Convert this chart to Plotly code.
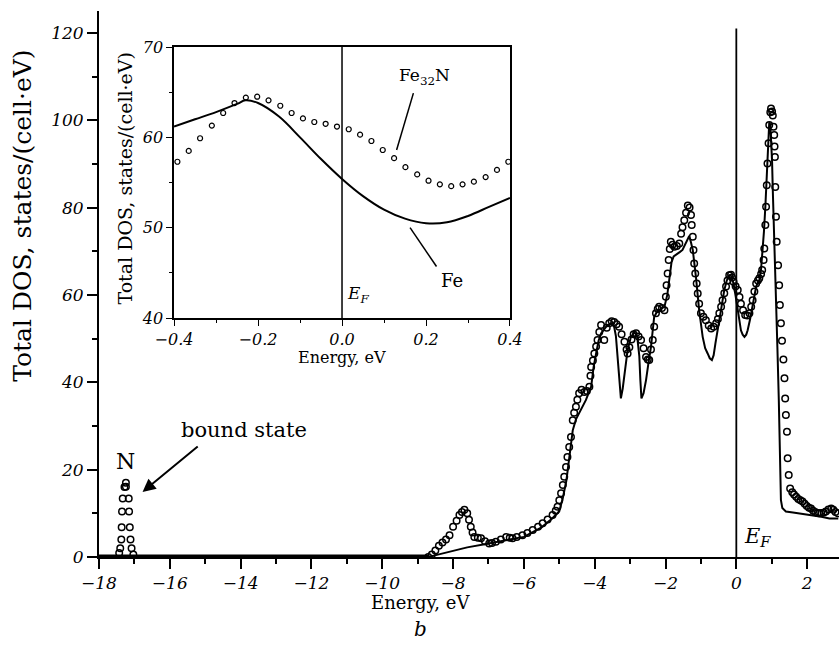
import plotly.graph_objects as go

# ---------------- data ----------------
# Main panel: Fe (solid line)
fe_E = [-18.0, -8.70, -8.40, -8.00, -7.60, -7.07, -6.50, -6.00, -5.50, -5.20, -5.00, -4.90, -4.80,
        -4.70, -4.62, -4.53, -4.44, -4.25, -4.10, -4.03, -3.96, -3.89, -3.82, -3.68, -3.54, -3.45,
        -3.40, -3.35, -3.30, -3.26, -3.21, -3.16, -3.07, -2.98, -2.88, -2.80, -2.74, -2.71, -2.68,
        -2.62, -2.55, -2.48, -2.41, -2.32, -2.25, -2.18, -2.03, -1.95, -1.89, -1.83, -1.77, -1.70,
        -1.60, -1.52, -1.45, -1.37, -1.33, -1.28, -1.23, -1.14, -1.05, -0.95, -0.88, -0.81, -0.75,
        -0.69, -0.64, -0.59, -0.53, -0.48, -0.41, -0.34, -0.27, -0.20, -0.14, -0.08, -0.02, 0.04,
        0.08, 0.13, 0.18, 0.23, 0.28, 0.32, 0.39, 0.46, 0.51, 0.56, 0.61, 0.65, 0.70, 0.74, 0.78,
        0.82, 0.86, 0.89, 0.93, 0.96, 0.98, 1.01, 1.03, 1.08, 1.12, 1.16, 1.20, 1.23, 1.26, 1.30,
        1.40, 1.60, 1.78, 2.16, 2.40, 2.63, 2.88]
fe_D = [0.0, 0.0, 0.6, 1.4, 2.2, 3.0, 3.8, 4.6, 6.8, 8.8, 10.5, 13.5, 17.5,
        23.5, 29.0, 31.5, 32.9, 35.9, 39.0, 43.5, 46.6, 49.5, 51.2, 52.7, 53.5, 52.7,
        50.5, 46.0, 40.0, 36.3, 38.5, 42.0, 47.4, 50.3, 51.5, 50.5, 46.0, 40.5, 36.3,
        37.5, 40.5, 44.5, 48.1, 55.0, 56.0, 56.5, 57.3, 60.0, 63.5, 67.5, 68.8, 69.3,
        69.8, 70.3, 71.5, 73.0, 73.5, 72.0, 70.3, 64.1, 56.5, 50.4, 47.8, 46.6, 45.5,
        45.1, 46.2, 48.9, 52.0, 55.0, 58.5, 61.1, 63.3, 64.5, 64.3, 62.6, 59.8, 56.5,
        54.0, 51.9, 50.9, 50.4, 50.9, 51.9, 54.5, 57.3, 59.8, 61.9, 62.8, 63.4, 66.0, 69.5, 74.5,
        80.2, 88.5, 95.4, 99.5, 99.0, 96.2, 90.5, 84.0, 72.0, 61.1, 48.0, 35.9, 22.0, 13.0, 11.2,
        10.4, 10.2, 10.0, 9.6, 9.2, 8.8, 8.8]

# Main panel: Fe32N (open circles)
fen_E = [-8.70, -8.60, -8.50, -8.40, -8.30, -8.20, -8.10, -8.00, -7.90, -7.82, -7.75, -7.68, -7.60,
         -7.55, -7.50, -7.45, -7.40, -7.30, -7.21, -7.10, -6.98, -6.90, -6.79, -6.65, -6.50, -6.40,
         -6.32, -6.20, -6.04, -5.90, -5.75, -5.60, -5.47, -5.33, -5.19, -5.10, -5.05, -5.00, -4.95,
         -4.90, -4.86, -4.81, -4.77, -4.72, -4.67, -4.62, -4.58, -4.53, -4.49, -4.44, -4.37, -4.29,
         -4.22, -4.15, -4.12, -4.10, -4.05, -4.01, -3.96, -3.92, -3.87, -3.82, -3.73, -3.66, -3.59,
         -3.52, -3.45, -3.38, -3.31, -3.24, -3.16, -3.10, -3.07, -3.02, -2.96, -2.90, -2.83, -2.76,
         -2.69, -2.62, -2.55, -2.50, -2.46, -2.41, -2.36, -2.32, -2.27, -2.22, -2.18, -2.10, -2.03,
         -1.99, -1.97, -1.94, -1.91, -1.88, -1.85, -1.80, -1.75, -1.68, -1.61, -1.56, -1.52, -1.47,
         -1.42, -1.37, -1.32, -1.28, -1.26, -1.23, -1.21, -1.19, -1.16, -1.12, -1.09, -1.05, -1.00,
         -0.93, -0.86, -0.78, -0.71, -0.64, -0.57, -0.52, -0.48, -0.43, -0.39, -0.34, -0.29, -0.25,
         -0.20, -0.15, -0.12, -0.08, -0.02, 0.04, 0.09, 0.13, 0.19, 0.25, 0.31, 0.37, 0.42, 0.46,
         0.51, 0.56, 0.61, 0.65, 0.70, 0.73, 0.77, 0.79, 0.82, 0.84, 0.86, 0.88, 0.91, 0.93, 0.96,
         0.98, 1.01, 1.03, 1.05, 1.07, 1.08, 1.09, 1.10, 1.12, 1.14, 1.18, 1.21, 1.23, 1.26, 1.29,
         1.33, 1.36, 1.38, 1.40, 1.43, 1.45, 1.48, 1.52, 1.58, 1.63, 1.69, 1.75, 1.81, 1.87, 1.93,
         1.99, 2.05, 2.11, 2.17, 2.23, 2.29, 2.34, 2.40, 2.47, 2.53, 2.60, 2.68, 2.74, 2.80, 2.87]
fen_D = [0.0, 0.6, 1.5, 2.6, 3.3, 4.0, 5.0, 6.9, 8.3, 9.6, 10.3, 10.8, 10.0,
         8.5, 6.9, 5.6, 4.6, 4.4, 4.3, 3.6, 3.1, 3.2, 3.5, 4.0, 4.6, 4.4,
         4.3, 4.6, 5.0, 5.5, 6.2, 6.9, 7.7, 8.6, 9.6, 10.6, 11.5, 13.0, 14.6,
         16.5, 18.4, 20.6, 22.9, 25.2, 27.5, 31.3, 33.0, 34.4, 36.0, 37.5, 38.3, 37.8,
         38.0, 39.0, 41.5, 43.5, 45.0, 46.6, 48.2, 49.7, 51.5, 53.1, 49.7, 52.5, 53.5,
         54.0, 53.8, 53.3, 52.7, 51.0, 49.3, 47.5, 46.6, 48.0, 49.8, 51.0, 51.2, 50.5,
         49.7, 47.8, 45.8, 45.2, 45.1, 47.5, 49.7, 52.7, 55.8, 56.8, 57.3, 57.0, 56.5,
         59.6, 62.2, 64.9, 68.0, 70.5, 72.2, 71.5, 71.0, 71.2, 71.8, 74.0, 75.5, 77.1,
         78.8, 80.5, 80.0, 78.3, 76.0, 73.3, 70.3, 67.2, 64.9, 62.6, 60.3, 58.0, 55.8,
         55.0, 54.2, 53.0, 52.3, 52.7, 53.5, 54.5, 55.8, 57.3, 58.8, 60.4, 61.9, 63.3,
         64.5, 64.6, 64.0, 63.0, 62.0, 61.1, 59.5, 58.0, 56.5, 55.4, 55.3, 55.8, 57.3, 58.8,
         60.8, 62.6, 63.3, 63.8, 64.8, 65.7, 68.0, 70.6, 76.0, 80.2, 85.1, 90.1, 94.7, 98.9, 101.8,
         102.7, 102.0, 101.1, 98.5, 96.6, 94.0, 91.6, 84.7, 77.9, 72.2, 66.8, 62.2, 57.7, 53.5, 49.5,
         45.2, 40.9, 36.3, 32.5, 28.7, 22.6, 18.8, 15.7, 14.8, 14.3, 13.8, 13.3, 13.0, 12.7, 12.2,
         11.7, 11.3, 11.1, 10.6, 10.3, 10.1, 10.0, 10.1, 10.2, 10.4, 10.9, 11.1, 10.8, 10.3, 10.0]

# Fe32N zero band below the Fe bands and the N bound state
base_E = [-18.0, -8.70]
base_D = [0.0, 0.0]
bound_E = [-17.43, -17.40, -17.37, -17.36, -17.35, -17.33, -17.28, -17.24, -17.24,
           -17.16, -17.15, -17.13, -17.11, -17.08, -17.03]
bound_D = [0.9, 2.0, 4.0, 6.8, 10.4, 13.4, 16.0, 17.0, 16.1,
           13.4, 10.4, 6.8, 4.0, 2.0, 0.6]

# Inset: Fe (line) and Fe32N (circles) near E_F
in_fe_E = [-0.40, -0.35, -0.30, -0.25, -0.23, -0.20, -0.15, -0.10, -0.05, 0.00,
           0.05, 0.10, 0.15, 0.20, 0.25, 0.30, 0.35, 0.40]
in_fe_D = [61.2, 62.0, 62.8, 63.7, 64.1, 63.8, 62.3, 60.0, 57.6, 55.4,
           53.5, 52.0, 51.0, 50.5, 50.6, 51.3, 52.3, 53.3]
in_n_E = [-0.392, -0.365, -0.338, -0.310, -0.283, -0.256, -0.229, -0.202, -0.175, -0.147,
          -0.120, -0.093, -0.066, -0.039, -0.012, 0.016, 0.043, 0.070, 0.097, 0.124,
          0.151, 0.179, 0.206, 0.233, 0.260, 0.287, 0.314, 0.342, 0.369, 0.396]
in_n_D = [57.3, 58.5, 59.9, 61.3, 62.7, 63.8, 64.4, 64.5, 64.1, 63.5,
          62.7, 62.1, 61.7, 61.5, 61.2, 60.9, 60.3, 59.6, 58.6, 57.7,
          56.7, 55.9, 55.2, 54.8, 54.6, 54.8, 55.1, 55.6, 56.4, 57.3]

FONT = "DejaVu Serif"
BLACK = "black"

fig = go.Figure()

# ---- main panel ----
fig.add_trace(go.Scatter(x=fe_E, y=fe_D, mode="lines", line=dict(color=BLACK, width=2),
                         showlegend=False, xaxis="x", yaxis="y"))
fig.add_trace(go.Scatter(x=base_E, y=base_D, mode="lines", line=dict(color=BLACK, width=5),
                         showlegend=False, xaxis="x", yaxis="y"))
fig.add_trace(go.Scatter(x=fen_E, y=fen_D, mode="markers",
                         marker=dict(symbol="circle-open", size=6.5, color=BLACK, line=dict(width=1.5)),
                         showlegend=False, xaxis="x", yaxis="y"))
fig.add_trace(go.Scatter(x=bound_E, y=bound_D, mode="markers",
                         marker=dict(symbol="circle-open", size=6.5, color=BLACK, line=dict(width=1.5)),
                         showlegend=False, xaxis="x", yaxis="y"))
fig.add_trace(go.Scatter(x=[0, 0], y=[0, 121], mode="lines", line=dict(color=BLACK, width=1.8),
                         showlegend=False, xaxis="x", yaxis="y"))

# ---- inset ----
fig.add_trace(go.Scatter(x=in_fe_E, y=in_fe_D, mode="lines", line=dict(color=BLACK, width=2, shape="spline"),
                         showlegend=False, xaxis="x2", yaxis="y2"))
fig.add_trace(go.Scatter(x=in_n_E, y=in_n_D, mode="markers",
                         marker=dict(symbol="circle-open", size=5, color=BLACK, line=dict(width=1.2)),
                         showlegend=False, xaxis="x2", yaxis="y2"))
fig.add_trace(go.Scatter(x=[0, 0], y=[40, 70], mode="lines", line=dict(color=BLACK, width=1.5),
                         showlegend=False, xaxis="x2", yaxis="y2"))

tickfont_main = dict(family=FONT, size=17, color=BLACK, style="italic")
tickfont_in = dict(family=FONT, size=16, color=BLACK, style="italic")

fig.update_layout(
    autosize=False,
    width=839, height=664,
    margin=dict(l=99, r=0, t=11, b=107, autoexpand=False),
    paper_bgcolor="white", plot_bgcolor="white",
    font=dict(family=FONT, color=BLACK),
    xaxis=dict(range=[-18, 2.9], tick0=0, dtick=2, ticks="outside", ticklen=10, tickwidth=1.5,
               tickcolor=BLACK, showline=True, linewidth=2, linecolor=BLACK, showgrid=False,
               zeroline=False, tickfont=tickfont_main, anchor="y",
               minor=dict(dtick=1, ticks="outside", ticklen=5, tickwidth=1.5, tickcolor=BLACK)),
    yaxis=dict(range=[0, 125], tick0=0, dtick=20, ticks="outside", ticklen=10, tickwidth=1.5,
               tickcolor=BLACK, showline=True, linewidth=2, linecolor=BLACK, showgrid=False,
               zeroline=False, tickfont=tickfont_main, anchor="x",
               minor=dict(dtick=10, ticks="outside", ticklen=5, tickwidth=1.5, tickcolor=BLACK)),
    xaxis2=dict(domain=[0.1014, 0.5554], range=[-0.4, 0.4], tick0=0, dtick=0.2, tickformat=".1f",
                ticks="outside", ticklen=6, tickwidth=1.3, tickcolor=BLACK, showline=True,
                linewidth=1.5, linecolor=BLACK, mirror=True, showgrid=False, zeroline=False,
                tickfont=tickfont_in, anchor="y2",
                minor=dict(dtick=0.1, ticks="outside", ticklen=3, tickwidth=1.3, tickcolor=BLACK)),
    yaxis2=dict(domain=[0.4377, 0.934], range=[40, 70], tick0=40, dtick=10,
                ticks="outside", ticklen=6, tickwidth=1.3, tickcolor=BLACK, showline=True,
                linewidth=1.5, linecolor=BLACK, mirror=True, showgrid=False, zeroline=False,
                tickfont=tickfont_in, anchor="x2",
                minor=dict(dtick=5, ticks="outside", ticklen=3, tickwidth=1.3, tickcolor=BLACK)),
)

ann = []
# axis titles (main)
ann.append(dict(text="Total DOS, states/(cell·eV)", xref="paper", yref="paper", x=-0.1027, y=0.625,
                xanchor="center", yanchor="middle", textangle=-90, showarrow=False, font=dict(size=25)))
ann.append(dict(text="Energy, eV", xref="paper", yref="paper", x=0.4338, y=-0.0835,
                xanchor="center", yanchor="middle", showarrow=False, font=dict(size=18)))
ann.append(dict(text="<i>b</i>", xref="paper", yref="paper", x=0.4338, y=-0.132,
                xanchor="center", yanchor="middle", showarrow=False, font=dict(size=20)))
# inset titles
ann.append(dict(text="Total DOS, states/(cell·eV)", xref="paper", yref="paper", x=0.0358, y=0.694,
                xanchor="center", yanchor="middle", textangle=-90, showarrow=False, font=dict(size=19)))
ann.append(dict(text="Energy, eV", xref="paper", yref="paper", x=0.3284, y=0.3663,
                xanchor="center", yanchor="middle", showarrow=False, font=dict(size=16)))
# main labels
ann.append(dict(text="<i>E</i><sub><i>F</i></sub>", xref="x", yref="y", x=0.15, y=4.5,
                xanchor="left", yanchor="middle", showarrow=False, font=dict(size=21)))
ann.append(dict(text="N", xref="x", yref="y", x=-17.24, y=21.8, xanchor="center", yanchor="middle",
                showarrow=False, font=dict(size=22)))
ann.append(dict(text="bound state", xref="x", yref="y", x=-13.9, y=29.1, xanchor="center",
                yanchor="middle", showarrow=False, font=dict(size=21)))
ann.append(dict(text="", xref="x", yref="y", x=-16.77, y=14.9, ax=-15.17, ay=25.6,
                axref="x", ayref="y", showarrow=True, arrowhead=2, arrowsize=1.3, arrowwidth=2,
                arrowcolor=BLACK))
# inset labels
ann.append(dict(text="<i>E</i><sub><i>F</i></sub>", xref="x2", yref="y2", x=0.008, y=42.6,
                xanchor="left", yanchor="middle", showarrow=False, font=dict(size=17)))
ann.append(dict(text="Fe<sub>32</sub>N", xref="x2", yref="y2", x=0.196, y=66.7, xanchor="center",
                yanchor="middle", showarrow=False, font=dict(size=17)))
ann.append(dict(text="Fe", xref="x2", yref="y2", x=0.261, y=44.2, xanchor="center",
                yanchor="middle", showarrow=False, font=dict(size=18)))
fig.update_layout(annotations=ann)

fig.add_shape(type="line", xref="x2", yref="y2", x0=0.17, y0=64.9, x1=0.13, y1=58.6,
              line=dict(color=BLACK, width=1.5))
fig.add_shape(type="line", xref="x2", yref="y2", x0=0.162, y0=50.0, x1=0.225, y1=45.7,
              line=dict(color=BLACK, width=1.5))

fig.write_html("out.html", config={"responsive": False})
